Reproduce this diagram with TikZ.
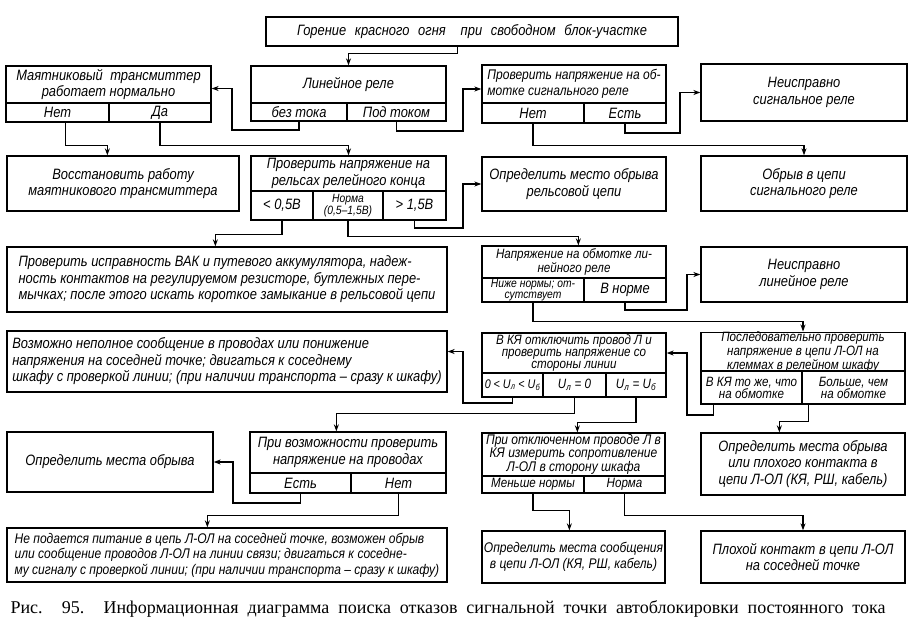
\documentclass[tikz,border=0pt]{standalone}
\usepackage{fontspec}
\setmainfont{Liberation Sans}[FakeStretch=0.86]
\newfontfamily\capfont{Liberation Serif}
\usetikzlibrary{arrows.meta,calc}
\tikzset{
  box/.style={draw, line width=1.3pt, inner sep=1pt, align=center,
    font=\fontsize{15}{16.5}\selectfont\itshape},
  lbox/.style={box, align=left},
  mid/.style={font=\fontsize{14}{15.5}\selectfont\itshape},
  small/.style={font=\fontsize{13.5}{12}\selectfont\itshape, inner ysep=0pt},
  smallb/.style={font=\fontsize{14}{12}\selectfont\itshape, inner ysep=0pt},
  tiny/.style={font=\fontsize{12}{10.5}\selectfont\itshape, inner ysep=0pt},
  arr/.style={draw, line width=1.3pt, -{Stealth[length=7pt,width=5pt]}},
}
% #1 options, #2 name, #3 x1, #4 y1, #5 x2, #6 y2, #7 text
\newcommand\bx[7][]{\node[box,#1,anchor=center,minimum width={(#5-#3)*1pt},minimum height={(#6-#4)*1pt}] (#2) at ({(#3+#5)/2},{(#4+#6)/2}) {#7};}
\begin{document}
\begin{tikzpicture}[x=1pt,y=-1pt]
\fill[white] (0,0) rectangle (920,640);
\useasboundingbox (0,0) rectangle (920,640);
% row 1
\bx{top}{266}{17}{678}{46}{\makebox[350pt][s]{Горение красного огня\quad при свободном блок-участке}}
\bx{mt}{6}{66}{211}{103}{Маятниковый\enspace трансмиттер\\работает нормально}
\bx{mtA}{6}{103}{109}{122}{Нет}
\bx{mtB}{109}{103}{211}{122}{Да}
\bx{lr}{251}{66}{446}{103}{Линейное реле}
\bx{lrA}{251}{103}{347}{121}{без тока}
\bx{lrB}{347}{103}{446}{121}{Под током}
\bx[lbox,mid]{ps}{482}{65}{666}{103}{Проверить напряжение на об-\\мотке сигнального реле}
\bx{psA}{482}{103}{584}{123}{Нет}
\bx{psB}{584}{103}{666}{123}{Есть}
\bx{nsr}{701}{64}{907}{121}{Неисправно\\сигнальное реле}
% row 2
\bx{vr}{7}{156}{239}{211}{Восстановить работу\\маятникового трансмиттера}
\bx{pr}{251}{156}{446}{191}{Проверить напряжение на\\рельсах релейного конца}
\bx{prA}{251}{191}{313}{220}{< 0,5В}
\bx[tiny]{prB}{313}{191}{383}{220}{Норма\\(0,5–1,5В)}
\bx{prC}{383}{191}{446}{220}{> 1,5В}
\bx{om}{482}{157}{666}{211}{Определить место обрыва\\рельсовой цепи}
\bx{osr}{701}{156}{907}{211}{Обрыв в цепи\\сигнального реле}
% row 3
\bx[lbox]{vak}{7}{247}{447}{312}{Проверить исправность ВАК и путевого аккумулятора, надеж-\\ность контактов на регулируемом резисторе, бутлежных пере-\\мычках; после этого искать короткое замыкание в рельсовой цепи}
\bx[small]{no}{482}{246}{666}{278}{Напряжение на обмотке ли-\\нейного реле}
\bx[tiny]{noA}{482}{278}{584}{302}{Ниже нормы; от-\\сутствует}
\bx{noB}{584}{278}{666}{302}{В норме}
\bx{nlr}{701}{247}{907}{302}{Неисправно\\линейное реле}
% row 4
\bx[lbox]{vn}{7}{331}{447}{392}{Возможно неполное сообщение в проводах или понижение\\напряжения на соседней точке; двигаться к соседнему\\шкафу с проверкой линии; (при наличии транспорта – сразу к шкафу)}
\bx[small]{ky}{482}{333}{666}{373}{В КЯ отключить провод Л и\\проверить напряжение со\\стороны линии}
\bx[small,font=\fontsize{12.5}{12}\selectfont\itshape]{kyA}{482}{373}{543}{397}{0 < U\textsubscript{л} < U\textsubscript{б}}
\bx[small]{kyB}{543}{373}{606}{397}{U\textsubscript{л} = 0}
\bx[small]{kyC}{606}{373}{666}{397}{U\textsubscript{л} = U\textsubscript{б}}
\bx[small]{pp}{701}{333}{905}{371}{Последовательно проверить\\напряжение в цепи Л-ОЛ на\\клеммах в релейном шкафу}
\bx[small]{ppA}{701}{371}{802}{404}{В КЯ то же, что\\на обмотке}
\bx[small]{ppB}{802}{371}{905}{404}{Больше, чем\\на обмотке}
% row 5
\bx{pv}{250}{432}{446}{473}{При возможности проверить\\напряжение на проводах}
\bx{pvA}{250}{473}{351}{493}{Есть}
\bx{pvB}{351}{473}{446}{493}{Нет}
\bx{mo}{7}{432}{213}{492}{Определить места обрыва}
\bx[smallb]{po}{482}{433}{665}{476}{При отключенном проводе Л в\\КЯ измерить сопротивление\\Л-ОЛ в сторону шкафа}
\bx[small]{poA}{482}{476}{584}{493}{Меньше нормы}
\bx[small]{poB}{584}{476}{665}{493}{Норма}
\bx{opk}{701}{433}{905}{495}{Определить места обрыва\\или плохого контакта в\\цепи Л-ОЛ (КЯ, РШ, кабель)}
% row 6
\bx[lbox,mid]{np}{7}{528}{447}{582}{Не подается питание в цепь Л-ОЛ на соседней точке, возможен обрыв\\или сообщение проводов Л-ОЛ на линии связи; двигаться к соседне-\\му сигналу с проверкой линии; (при наличии транспорта – сразу к шкафу)}
\bx[mid]{ms}{482}{531}{665}{583}{Определить места сообщения\\в цепи Л-ОЛ (КЯ, РШ, кабель)}
\bx{pk}{701}{531}{905}{583}{Плохой контакт в цепи Л-ОЛ\\на соседней точке}
% caption
\node[font=\capfont\fontsize{18}{20}\selectfont, inner sep=0pt] (cap) at (448,609) {\makebox[875pt][s]{Рис. 95. Информационная диаграмма поиска отказов сигнальной точки автоблокировки постоянного тока}};
% connectors
\draw[arr] ([xshift=192pt]top.south west) -- ++(0,7) -| (lr.north);
\draw[arr] (lrA.south) |- (232,130) |- ([yshift=-4pt]mt.east);
\draw[arr] (lrB.south) |- (463,131) |- ([yshift=-5pt]ps.west);
\draw[arr] (psB.south) |- (680,133) |- (nsr.west);
\draw[arr] (psA.south) -- ++(0,22) -| (osr.north);
\draw[arr] ([xshift=8pt]mtA.south) -- ++(0,23) -| ([xshift=101pt]vr.north west);
\draw[arr] (mtB.south) -- ++(0,23) -| (pr.north);
\draw[arr] (prA.south) -- ++(0,14) -| ([xshift=209pt]vak.north west);
\draw[arr] (prB.south) -- ++(0,16) -| ([xshift=97pt]no.north west);
\draw[arr] (prC.south) |- (463,228) |- (om.west);
\draw[arr] (noB.south) |- (687,310) |- (nlr.west);
\draw[arr] (noA.south) -- ++(0,19) -| (pp.north);
\draw[arr] (kyA.south) |- (463,403) |- ([yshift=10pt]vn.east);
\draw[arr] (kyB.south) -- ++(0,16) -| ([xshift=87pt]pv.north west);
\draw[arr] (kyC.south) -- ++(0,25) -| ([xshift=96pt]po.north west);
\draw[arr] ([xshift=-38pt]ppA.south) |- (687,415) |- (ky.east);
\draw[arr] ([xshift=-45pt]ppB.south) -- ++(0,17) -| ([xshift=79pt]opk.north west);
\draw[arr] (pvA.south) |- (233,503) |- (mo.east);
\draw[arr] (pvB.south) -- ++(0,22) -| ([xshift=201pt]np.north west);
\draw[arr] (poA.south) -- ++(0,17) -| ([xshift=88pt]ms.north west);
\draw[arr] (poB.south) -- ++(0,22) -| (pk.north);
\end{tikzpicture}
\end{document}
